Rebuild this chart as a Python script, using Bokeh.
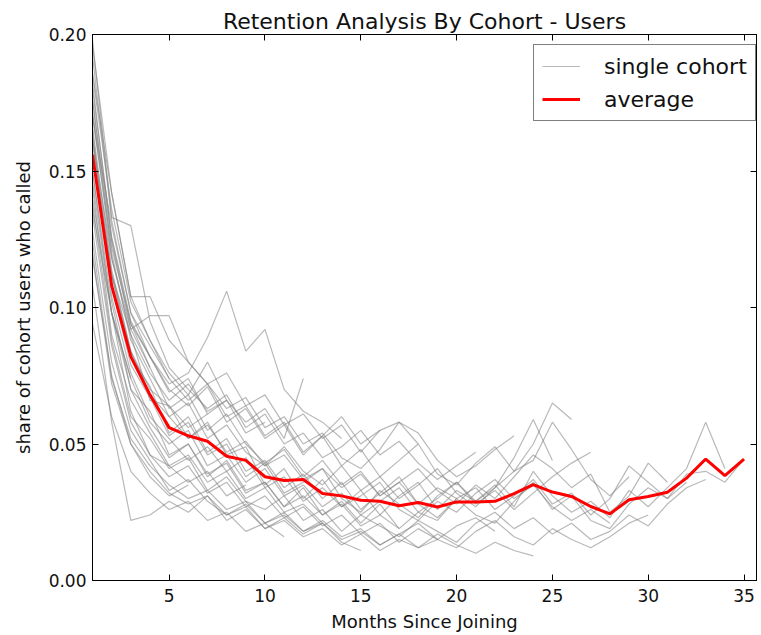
from bokeh.plotting import figure
from bokeh.models import LinearAxis, Legend, LegendItem, Range1d, FixedTicker, NumeralTickFormatter
from bokeh.embed import file_html
from bokeh.resources import INLINE

months = list(range(1, 36))

average = [0.156, 0.108, 0.082, 0.068, 0.056, 0.053, 0.051, 0.0455, 0.044, 0.038,
           0.0366, 0.0370, 0.0319, 0.031, 0.0294, 0.029, 0.0274, 0.0286, 0.0269, 0.0288,
           0.0288, 0.029, 0.0318, 0.0351, 0.0324, 0.0308, 0.0271, 0.0244, 0.0296, 0.0308,
           0.0323, 0.0375, 0.0445, 0.0384, 0.0445]

cohort_00 = [0.150, 0.098, 0.070, 0.062, 0.046, 0.050, 0.038, 0.044, 0.033, 0.036, 0.027, 0.034, 0.024, 0.029, 0.021, 0.028, 0.019, 0.025, 0.022, 0.030, 0.024, 0.021, 0.029, 0.036, 0.026, 0.031, 0.022, 0.019, 0.028, 0.034, 0.030, 0.039, 0.040, 0.036, 0.0445]
cohort_01 = [0.172, 0.118, 0.090, 0.066, 0.064, 0.052, 0.058, 0.046, 0.049, 0.035, 0.041, 0.030, 0.037, 0.027, 0.033, 0.024, 0.031, 0.036, 0.026, 0.033, 0.029, 0.035, 0.027, 0.040, 0.031, 0.025, 0.029, 0.023, 0.033, 0.027, 0.034, 0.041, 0.058, 0.041]
cohort_02 = [0.138, 0.088, 0.060, 0.052, 0.041, 0.045, 0.033, 0.038, 0.029, 0.026, 0.031, 0.022, 0.026, 0.018, 0.024, 0.020, 0.016, 0.022, 0.018, 0.014, 0.021, 0.025, 0.019, 0.023, 0.017, 0.021, 0.015, 0.018, 0.024, 0.020, 0.028, 0.034, 0.037]
cohort_03 = [0.162, 0.112, 0.082, 0.071, 0.054, 0.060, 0.047, 0.052, 0.040, 0.044, 0.034, 0.039, 0.030, 0.036, 0.026, 0.032, 0.038, 0.028, 0.023, 0.030, 0.034, 0.026, 0.031, 0.037, 0.028, 0.032, 0.024, 0.030, 0.042, 0.036, 0.030, 0.036]
cohort_04 = [0.182, 0.125, 0.094, 0.078, 0.063, 0.068, 0.055, 0.061, 0.050, 0.043, 0.048, 0.038, 0.044, 0.035, 0.040, 0.031, 0.036, 0.041, 0.033, 0.028, 0.035, 0.030, 0.038, 0.046, 0.041, 0.034, 0.039, 0.025, 0.031, 0.043, 0.036]
cohort_05 = [0.128, 0.080, 0.055, 0.044, 0.033, 0.037, 0.029, 0.024, 0.028, 0.021, 0.025, 0.018, 0.022, 0.016, 0.019, 0.013, 0.017, 0.021, 0.015, 0.012, 0.018, 0.022, 0.016, 0.013, 0.019, 0.015, 0.012, 0.016, 0.021, 0.024]
cohort_06 = [0.192, 0.132, 0.098, 0.082, 0.070, 0.064, 0.071, 0.058, 0.063, 0.052, 0.057, 0.046, 0.053, 0.042, 0.048, 0.038, 0.044, 0.050, 0.039, 0.035, 0.043, 0.049, 0.040, 0.044, 0.058, 0.048, 0.037, 0.031, 0.038]
cohort_07 = [0.165, 0.104, 0.076, 0.060, 0.052, 0.044, 0.049, 0.040, 0.045, 0.034, 0.038, 0.029, 0.034, 0.027, 0.031, 0.036, 0.026, 0.022, 0.029, 0.025, 0.032, 0.037, 0.030, 0.035, 0.027, 0.022, 0.026, 0.021]
cohort_08 = [0.155, 0.108, 0.079, 0.067, 0.053, 0.058, 0.046, 0.050, 0.038, 0.043, 0.032, 0.036, 0.041, 0.030, 0.025, 0.033, 0.028, 0.023, 0.031, 0.036, 0.028, 0.033, 0.026, 0.032, 0.038, 0.043, 0.047]
cohort_09 = [0.176, 0.120, 0.088, 0.074, 0.060, 0.065, 0.052, 0.057, 0.047, 0.042, 0.049, 0.040, 0.035, 0.042, 0.033, 0.038, 0.030, 0.035, 0.041, 0.032, 0.027, 0.034, 0.040, 0.050, 0.065, 0.059]
cohort_10 = [0.146, 0.098, 0.074, 0.058, 0.050, 0.055, 0.042, 0.046, 0.036, 0.041, 0.031, 0.035, 0.027, 0.032, 0.024, 0.029, 0.034, 0.025, 0.030, 0.036, 0.029, 0.034, 0.045, 0.059, 0.044]
cohort_11 = [0.118, 0.075, 0.050, 0.040, 0.032, 0.028, 0.031, 0.024, 0.027, 0.019, 0.022, 0.016, 0.019, 0.013, 0.017, 0.011, 0.015, 0.012, 0.017, 0.013, 0.010, 0.014, 0.011, 0.009]
cohort_12 = [0.186, 0.142, 0.104, 0.088, 0.074, 0.066, 0.072, 0.060, 0.064, 0.053, 0.058, 0.047, 0.053, 0.060, 0.050, 0.055, 0.058, 0.054, 0.044, 0.038, 0.042, 0.048, 0.053]
cohort_13 = [0.134, 0.086, 0.058, 0.046, 0.038, 0.042, 0.032, 0.036, 0.027, 0.031, 0.023, 0.027, 0.020, 0.024, 0.017, 0.021, 0.014, 0.019, 0.015, 0.020, 0.023, 0.018]
cohort_14 = [0.198, 0.133, 0.130, 0.095, 0.078, 0.070, 0.063, 0.068, 0.056, 0.061, 0.050, 0.054, 0.045, 0.049, 0.055, 0.046, 0.051, 0.043, 0.037, 0.042, 0.047]
cohort_15 = [0.166, 0.114, 0.084, 0.068, 0.060, 0.052, 0.057, 0.047, 0.051, 0.042, 0.046, 0.037, 0.041, 0.034, 0.039, 0.031, 0.036, 0.028, 0.034, 0.030]
cohort_16 = [0.108, 0.058, 0.022, 0.024, 0.029, 0.025, 0.031, 0.022, 0.026, 0.019, 0.023, 0.017, 0.021, 0.015, 0.018, 0.013, 0.017, 0.012, 0.015]
cohort_17 = [0.176, 0.124, 0.092, 0.097, 0.097, 0.080, 0.072, 0.063, 0.067, 0.056, 0.060, 0.050, 0.054, 0.045, 0.041, 0.048, 0.058, 0.050]
cohort_18 = [0.150, 0.102, 0.070, 0.056, 0.045, 0.050, 0.039, 0.043, 0.032, 0.036, 0.027, 0.031, 0.024, 0.028, 0.020, 0.024, 0.019]
cohort_19 = [0.196, 0.142, 0.104, 0.104, 0.088, 0.080, 0.072, 0.076, 0.064, 0.068, 0.057, 0.061, 0.052, 0.057, 0.047, 0.055]
cohort_20 = [0.124, 0.074, 0.052, 0.042, 0.035, 0.030, 0.033, 0.026, 0.029, 0.021, 0.024, 0.018, 0.021, 0.014, 0.011]
cohort_21 = [0.180, 0.126, 0.095, 0.082, 0.072, 0.076, 0.089, 0.106, 0.084, 0.092, 0.070, 0.062, 0.058, 0.052]
cohort_22 = [0.144, 0.090, 0.066, 0.054, 0.042, 0.046, 0.036, 0.040, 0.030, 0.034, 0.025, 0.028, 0.021]
cohort_23 = [0.160, 0.112, 0.090, 0.076, 0.066, 0.072, 0.062, 0.066, 0.058, 0.063, 0.052, 0.074]
cohort_24 = [0.094, 0.060, 0.040, 0.032, 0.026, 0.029, 0.022, 0.025, 0.018, 0.021, 0.016]
cohort_25 = [0.170, 0.122, 0.094, 0.082, 0.069, 0.074, 0.061, 0.066, 0.054, 0.058]
cohort_26 = [0.140, 0.098, 0.062, 0.046, 0.042, 0.036, 0.040, 0.031, 0.035]
cohort_27 = [0.185, 0.136, 0.102, 0.088, 0.076, 0.068, 0.080, 0.066]
cohort_28 = [0.155, 0.112, 0.084, 0.070, 0.064, 0.056, 0.061]
cohort_29 = [0.120, 0.072, 0.050, 0.038, 0.031, 0.035]
cohort_30 = [0.170, 0.130, 0.098, 0.086, 0.074]
cohort_31 = [0.162, 0.118, 0.092, 0.078]
cohort_32 = [0.136, 0.098, 0.074]

cohorts = [cohort_00, cohort_01, cohort_02, cohort_03, cohort_04, cohort_05, cohort_06,
           cohort_07, cohort_08, cohort_09, cohort_10, cohort_11, cohort_12, cohort_13,
           cohort_14, cohort_15, cohort_16, cohort_17, cohort_18, cohort_19, cohort_20,
           cohort_21, cohort_22, cohort_23, cohort_24, cohort_25, cohort_26, cohort_27,
           cohort_28, cohort_29, cohort_30, cohort_31, cohort_32]

x_ticks = [5, 10, 15, 20, 25, 30, 35]
y_ticks = [0.0, 0.05, 0.10, 0.15, 0.20]

FONT = "DejaVu Sans"

p = figure(width=761, height=635, output_backend="svg", toolbar_location=None,
           x_range=Range1d(1, 35.65), y_range=Range1d(0, 0.2),
           min_border_left=92, min_border_right=5, min_border_top=34, min_border_bottom=55,
           title="Retention Analysis By Cohort - Users")
p.title.text_font = FONT
p.title.text_font_size = "22px"
p.title.text_font_style = "normal"
p.title.align = "center"
p.title.text_color = "#111111"
p.title.standoff = 2

p.grid.visible = False
p.outline_line_color = "black"
p.outline_line_width = 1
p.background_fill_color = "white"
p.border_fill_color = "white"

xs = [months[:len(c)] for c in cohorts]
gray = p.multi_line(xs, cohorts, line_color="#808080", line_alpha=0.55, line_width=1.2)
red = p.line(months, average, line_color="#ff0000", line_width=3)

for ax in (p.xaxis[0], p.yaxis[0]):
    ax.major_tick_in = 6
    ax.major_tick_out = 0
    ax.minor_tick_line_color = None
    ax.axis_line_color = "black"
    ax.major_tick_line_color = "black"
    ax.major_label_text_font = FONT
    ax.major_label_text_font_size = "17px"
    ax.major_label_text_color = "#111111"
    ax.axis_label_text_font = FONT
    ax.axis_label_text_font_size = "18px"
    ax.axis_label_text_font_style = "normal"
    ax.axis_label_text_color = "#111111"

p.xaxis[0].ticker = FixedTicker(ticks=x_ticks)
p.yaxis[0].ticker = FixedTicker(ticks=y_ticks)
p.yaxis[0].formatter = NumeralTickFormatter(format="0.00")
p.xaxis[0].axis_label = "Months Since Joining"
p.yaxis[0].axis_label = "share of cohort users who called"
p.xaxis[0].major_label_standoff = 8
p.yaxis[0].major_label_standoff = 6
p.xaxis[0].axis_label_standoff = 6
p.yaxis[0].axis_label_standoff = 12

top = LinearAxis(ticker=FixedTicker(ticks=x_ticks), major_tick_in=6, major_tick_out=0,
                 minor_tick_line_color=None, major_label_text_color=None,
                 major_label_text_font_size="1px", major_label_standoff=0,
                 axis_line_color="black")
right = LinearAxis(ticker=FixedTicker(ticks=y_ticks), major_tick_in=6, major_tick_out=0,
                   minor_tick_line_color=None, major_label_text_color=None,
                   major_label_text_font_size="1px", major_label_standoff=0,
                   axis_line_color="black")
p.add_layout(top, "above")
p.add_layout(right, "right")

legend = Legend(items=[LegendItem(label="single cohort", renderers=[gray]),
                       LegendItem(label="average", renderers=[red])],
                location=(441, 459))
legend.label_text_font = FONT
legend.label_text_font_size = "22px"
legend.label_text_color = "#111111"
legend.glyph_width = 38
legend.glyph_height = 26
legend.label_height = 26
legend.label_standoff = 24
legend.spacing = 7
legend.padding = 8
legend.margin = 0
legend.border_line_color = "black"
legend.border_line_width = 1
legend.background_fill_alpha = 1
p.add_layout(legend)

open("out.html", "w").write(file_html(p, INLINE))
